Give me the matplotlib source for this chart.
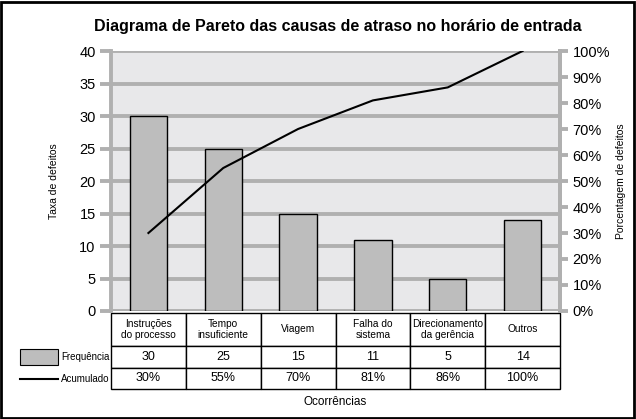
import matplotlib.pyplot as plt
from matplotlib.patches import Rectangle
from matplotlib.lines import Line2D

plt.rcParams['font.family'] = ['Liberation Sans', 'DejaVu Sans']

causas = ['Instruções\ndo processo', 'Tempo\ninsuficiente', 'Viagem',
          'Falha do\nsistema', 'Direcionamento\nda gerência', 'Outros']
frequencia = [30, 25, 15, 11, 5, 14]
acumulado = [30, 55, 70, 81, 86, 100]
ticks_esq = [0, 5, 10, 15, 20, 25, 30, 35, 40]
ticks_dir = [0, 10, 20, 30, 40, 50, 60, 70, 80, 90, 100]

W, H = 636, 419
fig = plt.figure(figsize=(W / 100, H / 100), dpi=100)
cinza = '#b0b0b0'

ax = fig.add_axes([111 / W, (H - 311) / H, 449 / W, 260 / H])
ax.set_facecolor('#e8e8ea')
x = list(range(len(causas)))
ax.bar(x, frequencia, width=0.5, color='#bdbdbd', edgecolor='black', linewidth=1, zorder=3)
ax.set_xlim(-0.5, 5.5)
ax.set_ylim(0, 40)
ax.set_yticks(ticks_esq)
ax.set_xticks([])
ax.grid(axis='y', color=cinza, linewidth=2.8, zorder=1)
ax.set_axisbelow(True)
ax.tick_params(axis='y', length=8, width=2.8, color=cinza, labelsize=10.5, pad=3)
for s in ['top', 'bottom']:
    ax.spines[s].set_visible(False)
for s in ['left', 'right']:
    ax.spines[s].set_color(cinza)
    ax.spines[s].set_linewidth(2.8)
ax.set_ylabel('Taxa de defeitos', fontsize=7.5, labelpad=15)

ax2 = ax.twinx()
ax2.plot(x, acumulado, color='black', linewidth=1.5, zorder=5)
ax2.set_ylim(0, 100)
ax2.set_yticks(ticks_dir)
ax2.set_yticklabels([f'{t}%' for t in ticks_dir])
ax2.tick_params(axis='y', length=6, width=2.8, color=cinza, labelsize=10.5, pad=3)
for s in ['top', 'bottom', 'left']:
    ax2.spines[s].set_visible(False)
ax2.spines['right'].set_color(cinza)
ax2.spines['right'].set_linewidth(2.8)
ax2.set_ylabel('Porcentagem de defeitos', fontsize=7.5, labelpad=4)

# tabela abaixo do grafico
tab = ax.table(cellText=[[str(v) for v in frequencia], [f'{v}%' for v in acumulado]],
               colLabels=causas, cellLoc='center',
               bbox=[0, (311 - 389) / 260, 1, 76 / 260])
tab.auto_set_font_size(False)
for (r, c), cell in tab.get_celld().items():
    cell.set_linewidth(1)
    cell.set_height(33 if r == 0 else 21.5)
    t = cell.get_text()
    if r == 0:
        t.set_fontsize(7.3)
        t.set_linespacing(1.05)
    else:
        t.set_fontsize(9)

# legenda da tabela
fig.patches.append(Rectangle((20 / W, (H - 365) / H), 38 / W, 16 / H, transform=fig.transFigure,
                             facecolor='#bdbdbd', edgecolor='black', linewidth=0.8))
fig.lines.append(Line2D([20 / W, 58 / W], [(H - 379) / H] * 2, transform=fig.transFigure,
                        color='black', linewidth=1.5))
fig.text(61 / W, (H - 357) / H, 'Frequência', fontsize=7, va='center')
fig.text(61 / W, (H - 379) / H, 'Acumulado', fontsize=7, va='center')
fig.text(335 / W, (H - 402) / H, 'Ocorrências', fontsize=8.5, ha='center', va='center')

fig.text(338 / W, (H - 27) / H, 'Diagrama de Pareto das causas de atraso no horário de entrada',
         fontsize=11.5, fontweight='bold', ha='center', va='center')

fig.patches.append(Rectangle((0.002, 0.003), 0.995, 0.993, transform=fig.transFigure,
                             fill=False, edgecolor='black', linewidth=2))

fig.savefig('out.png', dpi=100)
